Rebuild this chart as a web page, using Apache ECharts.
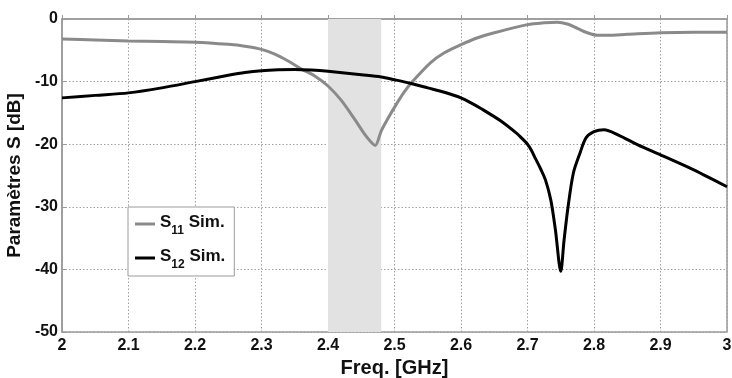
<!DOCTYPE html>
<html>
<head>
<meta charset="utf-8">
<script src="https://cdn.jsdelivr.net/npm/echarts@6/dist/echarts.min.js"></script>
<style>
html,body{margin:0;padding:0;background:#fff;}
#c{width:732px;height:378px;}
</style>
</head>
<body>
<div id="c"></div>
<script>
// Data
var s11Freq = [2.000,2.050,2.100,2.150,2.200,2.250,2.275,2.300,2.320,2.340,2.360,2.380,2.400,2.420,2.440,2.455,2.465,2.471,2.480,2.489,2.504,2.515,2.527,2.554,2.575,2.600,2.625,2.650,2.700,2.725,2.745,2.760,2.775,2.790,2.805,2.820,2.850,2.900,2.950,3.000];
var s11dB   = [-3.2,-3.35,-3.5,-3.6,-3.7,-4.05,-4.35,-4.85,-5.6,-6.7,-8.0,-9.1,-10.7,-13.0,-16.0,-18.4,-19.7,-20.2,-17.9,-16.1,-13.4,-11.6,-10.0,-7.0,-5.4,-4.1,-3.0,-2.2,-0.9,-0.6,-0.5,-0.8,-1.5,-2.2,-2.6,-2.6,-2.45,-2.2,-2.1,-2.1];
var s12Freq = [2.000,2.050,2.100,2.150,2.200,2.250,2.275,2.300,2.325,2.350,2.375,2.400,2.450,2.480,2.500,2.525,2.550,2.575,2.600,2.615,2.630,2.660,2.683,2.690,2.700,2.706,2.712,2.720,2.727,2.735,2.742,2.750,2.755,2.761,2.769,2.779,2.788,2.800,2.815,2.836,2.866,2.900,2.950,3.000];
var s12dB   = [-12.6,-12.2,-11.8,-11.0,-10.0,-9.0,-8.55,-8.25,-8.1,-8.05,-8.15,-8.35,-8.9,-9.25,-9.7,-10.3,-11.0,-11.7,-12.6,-13.4,-14.3,-16.3,-18.2,-18.9,-20.0,-21.0,-22.3,-24.0,-25.7,-28.9,-33.7,-40.3,-35.3,-30.0,-24.6,-21.4,-19.0,-18.0,-17.7,-18.5,-20.1,-21.7,-24.1,-26.8];
var bandFreq = [2.40, 2.48];
var xTicks = [2,2.1,2.2,2.3,2.4,2.5,2.6,2.7,2.8,2.9,3];
var yTicks = [-50,-40,-30,-20,-10,0];
var seriesNames = ['S11 Sim.', 'S12 Sim.'];

function pairs(xs, ys){ return xs.map(function(x,i){ return [x, ys[i]]; }); }

var FONT = '"Liberation Sans", Arial, sans-serif';
var chart = echarts.init(document.getElementById('c'), null, {renderer:'canvas'});
chart.setOption({
  animation: false,
  backgroundColor: '#ffffff',
  grid: {left: 62, right: 5, top: 19, bottom: 46, show: true, borderColor: '#9a9a9a', borderWidth: 1.5,
         containLabel: false, outerBoundsMode: 'none'},
  xAxis: {
    type: 'value', min: 2, max: 3, interval: 0.1,
    name: 'Freq. [GHz]', nameLocation: 'middle', nameGap: 25,
    nameTextStyle: {fontFamily: FONT, fontWeight: 'bold', fontSize: 20, color: '#111'},
    axisLine: {show: true, lineStyle: {color: '#9a9a9a', width: 1.5}},
    axisTick: {show: true, inside: true, length: 4, lineStyle: {color: '#9a9a9a'}},
    axisLabel: {fontFamily: FONT, fontWeight: 'bold', fontSize: 16, color: '#111', margin: 6,
      formatter: function(v){ var r = Math.round(v*10)/10; return xTicks.indexOf(r) >= 0 ? String(r) : ''; }},
    splitLine: {show: true, lineStyle: {type: [1.5, 2], color: '#a0a0a0', width: 1}}
  },
  yAxis: {
    type: 'value', min: -50, max: 0, interval: 10,
    name: 'Paramètres S [dB]', nameLocation: 'middle', nameGap: 34, nameRotate: 90,
    nameTextStyle: {fontFamily: FONT, fontWeight: 'bold', fontSize: 19, color: '#111'},
    axisLine: {show: true, lineStyle: {color: '#9a9a9a', width: 1.5}},
    axisTick: {show: true, inside: true, length: 4, lineStyle: {color: '#9a9a9a'}},
    axisLabel: {fontFamily: FONT, fontWeight: 'bold', fontSize: 16, color: '#111', margin: 4,
      formatter: function(v){ return yTicks.indexOf(v) >= 0 ? String(v) : ''; }},
    splitLine: {show: true, lineStyle: {type: [1.5, 2], color: '#a0a0a0', width: 1}}
  },
  legend: {
    show: true, orient: 'vertical', left: 128, top: 207,
    backgroundColor: '#fff', borderColor: '#9a9a9a', borderWidth: 1,
    padding: [7, 9, 5, 7], itemGap: 11,
    itemWidth: 20, itemHeight: 3,
    data: [
      {name: seriesNames[0], icon: 'rect'},
      {name: seriesNames[1], icon: 'rect'}
    ],
    formatter: function(name){
      var sub = name === seriesNames[0] ? '11' : '12';
      return '{b|S}{s|' + sub + '}{b| Sim.}';
    },
    textStyle: {
      color: '#111',
      rich: {
        b: {fontFamily: FONT, fontWeight: 'bold', fontSize: 17, color: '#111', lineHeight: 20, verticalAlign: 'top', padding: [0,0,5,0]},
        s: {fontFamily: FONT, fontWeight: 'bold', fontSize: 12, color: '#111', lineHeight: 14, verticalAlign: 'top', padding: [11,0,0,0]}
      }
    }
  },
  series: [
    {
      name: seriesNames[0], type: 'line', data: pairs(s11Freq, s11dB),
      smooth: 0.3, symbol: 'none', color: '#8a8a8a',
      lineStyle: {color: '#8a8a8a', width: 3},
      z: 3,
      markArea: {silent: true, itemStyle: {color: '#e2e2e2'},
        data: [[{xAxis: bandFreq[0]}, {xAxis: bandFreq[1]}]]}
    },
    {
      name: seriesNames[1], type: 'line', data: pairs(s12Freq, s12dB),
      smooth: 0.3, symbol: 'none', color: '#000',
      lineStyle: {color: '#000', width: 3},
      z: 4
    }
  ]
});
</script>
</body>
</html>
